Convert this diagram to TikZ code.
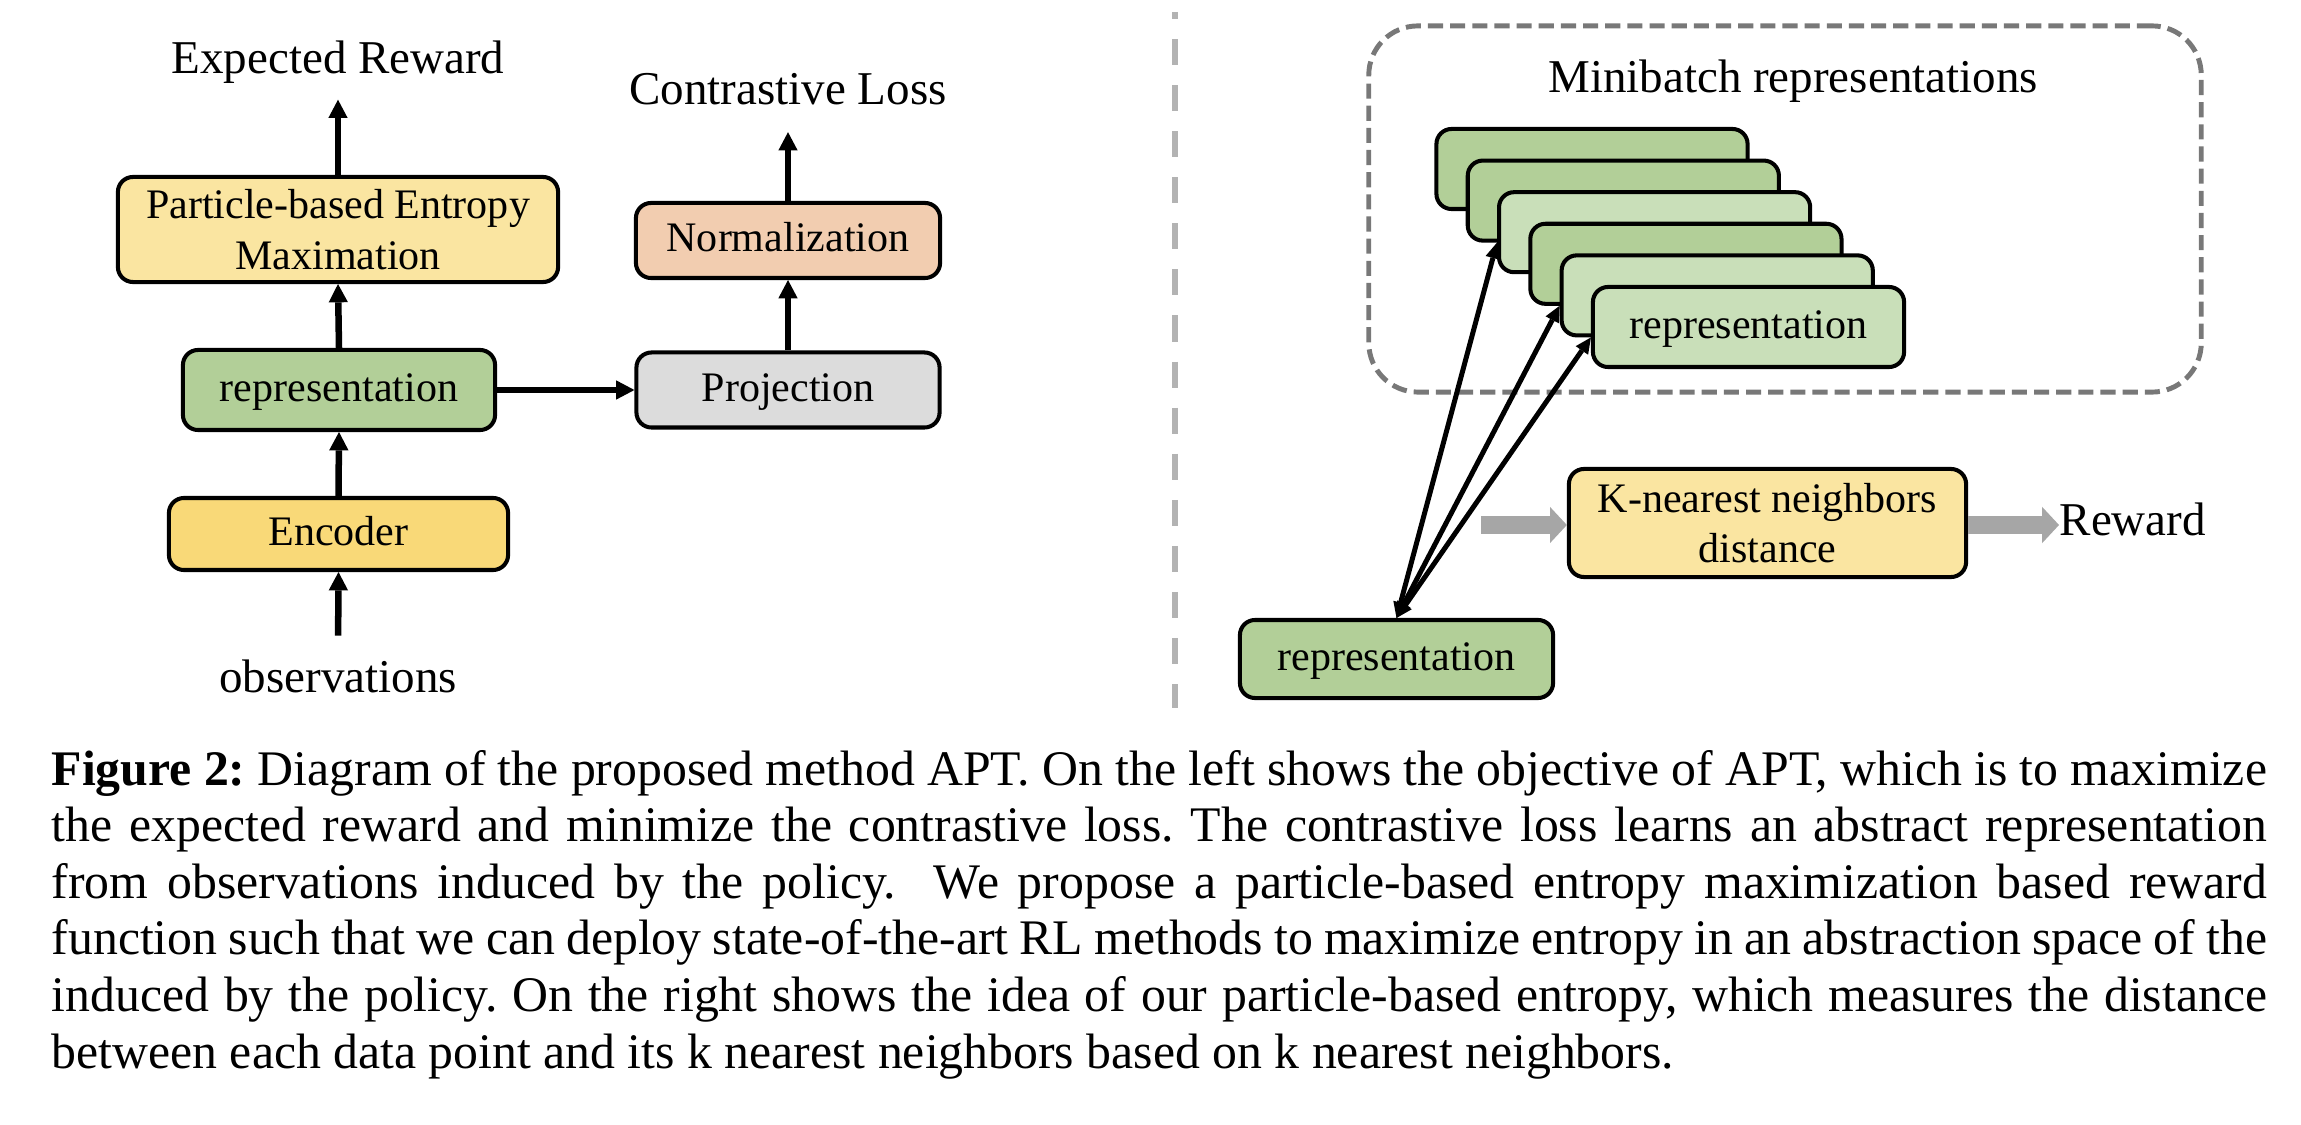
\documentclass[tikz,border=0pt]{standalone}
\usepackage{fontspec}
\setmainfont{Liberation Serif}
\usetikzlibrary{arrows.meta,calc}
\definecolor{pemY}{HTML}{FAE5A1}
\definecolor{encY}{HTML}{F9D978}
\definecolor{repG}{HTML}{B2CF98}
\definecolor{repL}{HTML}{C9DFB9}
\definecolor{normO}{HTML}{F2CDB0}
\definecolor{projG}{HTML}{DCDCDC}
\definecolor{sepG}{HTML}{B3B3B3}
\definecolor{dashG}{HTML}{787878}
\definecolor{arrG}{HTML}{A6A6A6}
\newcommand\bxfont{\fontsize{11.95pt}{14.4pt}\selectfont}
\newcommand\lbfont{\fontsize{13.37pt}{16pt}\selectfont}
\newcommand\cpfont{\fontsize{14.15pt}{16.1pt}\selectfont\frenchspacing}
\begin{document}
\begin{tikzpicture}[x=0.01cm,y=-0.01cm,
  blk/.style={draw=black, line width=1.15pt, rounded corners=4.3pt, inner sep=0pt, align=center, font=\bxfont},
  oneline/.style={text height=8.4pt, text depth=2.0pt},
  lab/.style={inner sep=0pt, font=\lbfont},
  arr/.style={line width=1.85pt, -{Triangle[length=5.2pt,width=5.5pt,line width=0pt]}},
  dbl/.style={line width=1.42pt, {Triangle[length=4.5pt,width=4.3pt,line width=0pt]}-{Triangle[length=4.5pt,width=4.3pt,line width=0pt]}},
  garr/.style={draw=arrG, line width=5.2pt, -{Triangle[length=4.8pt,width=10.3pt,line width=0pt]}},
  capl/.style={inner sep=0pt, anchor=base west, font=\cpfont},
]
\useasboundingbox (0,0) rectangle (2301,1125);

% ---------- left part ----------
\node[blk, fill=pemY, minimum width=4.40cm, minimum height=1.05cm] (pem) at (338,229.5) {Particle-based Entropy\\Maximation};
\node[blk, oneline, fill=repG, minimum width=3.12cm, minimum height=0.80cm] (rep) at (339,390) {representation};
\node[blk, oneline, fill=encY, minimum width=3.39cm, minimum height=0.72cm] (enc) at (338.5,534) {Encoder};
\node[blk, oneline, fill=normO, minimum width=3.04cm, minimum height=0.75cm] (norm) at (788,240.5) {Normalization};
\node[blk, oneline, fill=projG, minimum width=3.03cm, minimum height=0.75cm] (proj) at (788,390) {Projection};

\node[lab, anchor=base] (er) at (338,74) {Expected Reward};
\node[lab, anchor=base] (cl) at (788,105) {Contrastive Loss};
\node[lab, anchor=base] (obs) at (338,692) {observations};

\draw[arr, shorten >=0.15cm] (pem.north) -- (er.south);
\draw[arr] (rep.north) -- (pem.south);
\draw[arr] (enc.north) -- (rep.south);
\draw[arr, shorten <=0.23cm] (obs.north) -- (enc.south);
\draw[arr] (rep.east) -- (proj.west);
\draw[arr] (proj.north) -- (norm.south);
\draw[arr, shorten >=0.26cm] (norm.north) -- (cl.south);

% ---------- separator ----------
\draw[sepG, line width=1.7pt, dash pattern=on 7.4pt off 5.7pt, dash phase=5.4pt] (1175,12) -- (1175,708);

% ---------- right part ----------
\node[draw=dashG, line width=1.4pt, dash pattern=on 4.3pt off 2pt, rounded corners=14pt,
      minimum width=8.32cm, minimum height=3.66cm, inner sep=0pt] (mb) at (1785,209) {};
\node[lab, anchor=base] (mbt) at (1793,93) {Minibatch representations};

\foreach \i/\c in {1/repG,2/repG,3/repL,4/repG,5/repL}{
  \node[blk, fill=\c, minimum width=3.11cm, minimum height=0.80cm] (b\i) at ({1592+31.3*(\i-1)},{169+31.6*(\i-1)}) {};
}
\node[blk, oneline, fill=repL, minimum width=3.11cm, minimum height=0.80cm] (b6) at (1748.5,327) {representation};

\node[blk, oneline, fill=repG, minimum width=3.13cm, minimum height=0.78cm] (rep2) at (1396.5,659) {representation};

\draw[dbl] (rep2.north) -- (b3.west |- b2.south);
\draw[dbl] (rep2.north) -- (b5.west |- b4.south);
\draw[dbl] (rep2.north) -- (b6.west |- b5.south);

\node[blk, fill=pemY, minimum width=3.97cm, minimum height=1.08cm] (knn) at (1767.5,523) {K-nearest neighbors\\distance};
\node[lab, anchor=base west] (rw) at (2059,535) {Reward};
\coordinate (gs) at (1481,525);
\draw[garr] (gs) -- (gs -| knn.west);
\draw[garr] (knn.east |- gs) -- (gs -| rw.west);

% ---------- caption ----------
\node[capl] (c1) at (51,785) {\hbox to 22.14cm{\textbf{Figure 2:} Diagram of the proposed method APT. On the left shows the objective of APT, which is to maximize}};
\node[capl] (c2) at (51,841.6) {\hbox to 22.14cm{the expected reward and minimize the contrastive loss. The contrastive loss learns an abstract representation}};
\node[capl] (c3) at (51,898.2) {\hbox to 22.14cm{from observations induced by the policy.\ \ We propose a particle-based entropy maximization based reward}};
\node[capl] (c4) at (51,954.8) {\hbox to 22.14cm{function such that we can deploy state-of-the-art RL methods to maximize entropy in an abstraction space of the}};
\node[capl] (c5) at (51,1011.4) {\hbox to 22.14cm{induced by the policy. On the right shows the idea of our particle-based entropy, which measures the distance}};
\node[capl] (c6) at (51,1068) {between each data point and its k nearest neighbors based on k nearest neighbors.};
\end{tikzpicture}
\end{document}
